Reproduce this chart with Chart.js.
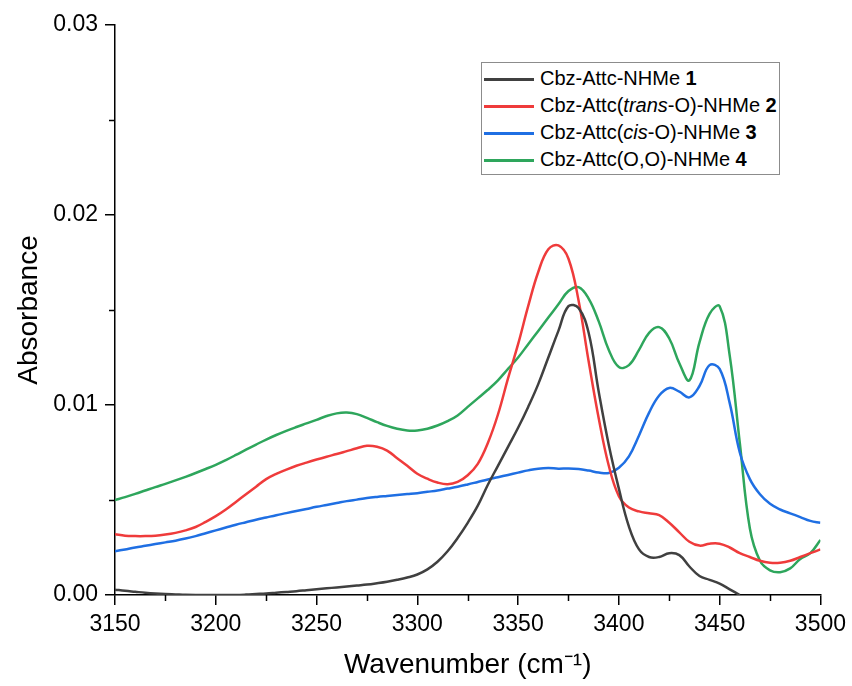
<!DOCTYPE html>
<html>
<head>
<meta charset="utf-8">
<script src="https://cdn.jsdelivr.net/npm/chart.js@4.4.1/dist/chart.umd.min.js"></script>
<style>
    body { margin: 0; background: #fff; }
    #wrap { position: relative; width: 852px; height: 686px; }
    #legend {
        position: absolute; left: 481px; top: 62px; width: 297px; height: 109px;
        border: 1px solid #8c8c8c; background: #fff;
        font-family: "Liberation Sans", Arial, sans-serif; font-size: 20px; color: #000;
        padding-top: 2px; box-sizing: content-box;
    }
    .row { height: 27px; line-height: 27px; white-space: nowrap; }
    .swatch { display: inline-block; width: 50px; height: 2.5px; margin: 0 6px 0 2px; vertical-align: middle; }
</style>
</head>
<body>
<div id="wrap">
    <canvas id="chart" width="852" height="686"></canvas>
    <div id="legend"></div>
</div>
<script>
// wavenumber grid (cm-1), step 5
const wavenumbers = [];
for (let w = 3150; w <= 3500; w += 5) wavenumbers.push(w);

// values, one per wavenumber
const abs1 = [
    0.00028, 0.00022, 0.00017, 0.00012, 0.00008, 0.00005, 0.00003, 0.00001, 0.0000, 0.0000,
    0.0000, 0.0000, 0.0000, 0.00002, 0.00005, 0.00008, 0.00012, 0.00016, 0.00020, 0.00025,
    0.00030, 0.00035, 0.00040, 0.00045, 0.00050, 0.00055, 0.00062, 0.00070, 0.00080, 0.00092,
    0.00108, 0.00135, 0.00175, 0.0023, 0.0030, 0.0038, 0.0047, 0.0058, 0.0068, 0.0078,
    0.0088, 0.0099, 0.0111, 0.0125, 0.0139, 0.0152, 0.0151, 0.0138, 0.0107, 0.0079,
    0.0056, 0.0036, 0.0024, 0.0020, 0.0020, 0.0022, 0.0021, 0.0015, 0.0010, 0.0008,
    0.0006, 0.0003, 0.0000, null, null, null, null, null, null, null, null
];
const abs2 = [
    0.0032, 0.00312, 0.00310, 0.00310, 0.00312, 0.00318, 0.00327, 0.00340, 0.00358, 0.00385,
    0.00415, 0.0045, 0.0049, 0.0053, 0.0057, 0.0061, 0.00638, 0.00660, 0.00680, 0.00697,
    0.00713, 0.00728, 0.00742, 0.00757, 0.00772, 0.00785, 0.00780, 0.00760, 0.0072, 0.0068,
    0.00638, 0.00612, 0.00592, 0.00583, 0.00595, 0.0063, 0.0069, 0.0080, 0.0095, 0.0114,
    0.0132, 0.0152, 0.0170, 0.0182, 0.0184, 0.0177, 0.0155, 0.0123, 0.0093, 0.0068,
    0.0052, 0.0046, 0.0044, 0.0043, 0.0042, 0.0038, 0.0033, 0.0028, 0.0026, 0.0027,
    0.0027, 0.0025, 0.0022, 0.0020, 0.0018, 0.0017, 0.0017, 0.0018, 0.0020, 0.0022,
    0.0024
];
const abs3 = [
    0.00230, 0.00240, 0.00250, 0.00259, 0.00268, 0.00277, 0.00286, 0.00297, 0.00310, 0.00325,
    0.00340, 0.00355, 0.00370, 0.00383, 0.00396, 0.00408, 0.00420, 0.00431, 0.00442, 0.00453,
    0.00464, 0.00474, 0.00484, 0.00494, 0.00502, 0.00510, 0.00516, 0.00521, 0.00526, 0.00531,
    0.00536, 0.00543, 0.00550, 0.00560, 0.00570, 0.00582, 0.00595, 0.00608, 0.00620, 0.00632,
    0.00644, 0.00656, 0.00665, 0.00668, 0.00665, 0.00666, 0.00663, 0.00655, 0.00645, 0.00642,
    0.0067, 0.0073, 0.0084, 0.0096, 0.0105, 0.0109, 0.0107, 0.0104, 0.0110, 0.0121,
    0.0119, 0.0101, 0.0075, 0.0061, 0.0053, 0.0048, 0.0045, 0.0043, 0.0041, 0.0039,
    0.0038
];
const abs4 = [
    0.00500, 0.00515, 0.00532, 0.00550, 0.00568, 0.00585, 0.00603, 0.00622, 0.00642, 0.00663,
    0.00685, 0.00710, 0.00737, 0.00765, 0.00792, 0.00818, 0.00842, 0.00864, 0.00884, 0.00903,
    0.00922, 0.00942, 0.00956, 0.00960, 0.00952, 0.00932, 0.00910, 0.00890, 0.00875, 0.00866,
    0.00866, 0.00875, 0.00892, 0.00915, 0.00945, 0.00990, 0.01035, 0.01080, 0.0113, 0.0119,
    0.0125, 0.0132, 0.0139, 0.0146, 0.0153, 0.0160, 0.0162, 0.0156, 0.0144, 0.0129,
    0.0120, 0.0121, 0.0129, 0.0138, 0.0141, 0.0135, 0.0122, 0.0113, 0.0133, 0.0148,
    0.0152, 0.0126, 0.0080, 0.0035, 0.0018, 0.0013, 0.0012, 0.0014, 0.0019, 0.0022,
    0.0029
];

const seriesNames = [
    "Cbz-Attc-NHMe <b>1</b>",
    "Cbz-Attc(<i>trans</i>-O)-NHMe <b>2</b>",
    "Cbz-Attc(<i>cis</i>-O)-NHMe <b>3</b>",
    "Cbz-Attc(O,O)-NHMe <b>4</b>"
];
const seriesColors = ["#404040", "#ef3b3b", "#1f6fe3", "#2ea65c"];

const xMinorTicks = [3175, 3225, 3275, 3325, 3375, 3425, 3475];
const yMinorTicks = [0.005, 0.015, 0.025];

const FONT = "'Liberation Sans', Arial, sans-serif";

function toPoints(values) {
    return wavenumbers.map((w, i) => ({ x: w, y: values[i] }));
}

// minor ticks (shorter, no labels), drawn outside the plot like Origin does
const minorTicks = {
    id: "minorTicks",
    afterDraw(chart) {
        const { ctx, scales: { x, y } } = chart;
        ctx.save();
        ctx.strokeStyle = "#000";
        ctx.lineWidth = 1.5;
        ctx.beginPath();
        xMinorTicks.forEach(v => {
            const px = Math.round(x.getPixelForValue(v)) + 0.5;
            ctx.moveTo(px, y.bottom);
            ctx.lineTo(px, y.bottom + 6);
        });
        yMinorTicks.forEach(v => {
            const py = Math.round(y.getPixelForValue(v)) + 0.5;
            ctx.moveTo(x.left, py);
            ctx.lineTo(x.left - 6, py);
        });
        ctx.stroke();
        ctx.restore();
    }
};

const datasets = [abs1, abs2, abs3, abs4].map((vals, i) => ({
    label: seriesNames[i].replace(/<[^>]+>/g, ""),
    data: toPoints(vals),
    borderColor: seriesColors[i],
    borderWidth: 2.5,
    pointRadius: 0,
    tension: 0.4,
    spanGaps: false,
    fill: false
}));

new Chart(document.getElementById("chart").getContext("2d"), {
    type: "line",
    data: { datasets },
    options: {
        responsive: false,
        animation: false,
        layout: { padding: { left: 0, right: 27, top: 25, bottom: 0 } },
        plugins: { legend: { display: false }, tooltip: { enabled: false } },
        scales: {
            x: {
                type: "linear",
                min: 3150, max: 3500,
                border: { color: "#000", width: 1.5 },
                grid: { drawOnChartArea: false, drawTicks: true, tickLength: 10, color: "#000", lineWidth: 1.5 },
                ticks: {
                    stepSize: 50, color: "#000", padding: 6, font: { family: FONT, size: 23 },
                    callback: v => String(v)
                },
                title: {
                    display: true, text: "Wavenumber (cm\u207B\u00B9)", color: "#000",
                    font: { family: FONT, size: 28 }, padding: { top: 0, bottom: 4 }
                },
                afterFit(scale) { scale.height = 91; }
            },
            y: {
                min: 0, max: 0.03,
                border: { color: "#000", width: 1.5 },
                grid: { drawOnChartArea: false, drawTicks: true, tickLength: 10, color: "#000", lineWidth: 1.5 },
                ticks: {
                    stepSize: 0.01, color: "#000", padding: 7, font: { family: FONT, size: 23 },
                    callback: v => v.toFixed(2)
                },
                title: {
                    display: true, text: "Absorbance", color: "#000",
                    font: { family: FONT, size: 28 }, padding: { top: 12, bottom: 0 }
                },
                afterFit(scale) { scale.width = 115; }
            }
        }
    },
    plugins: [minorTicks]
});

// legend as html so the italic / bold parts stay as in the figure
const legend = document.getElementById("legend");
seriesNames.forEach((name, i) => {
    const row = document.createElement("div");
    row.className = "row";
    row.innerHTML = `<span class="swatch" style="background:${seriesColors[i]}"></span>${name}`;
    legend.appendChild(row);
});
</script>
</body>
</html>
